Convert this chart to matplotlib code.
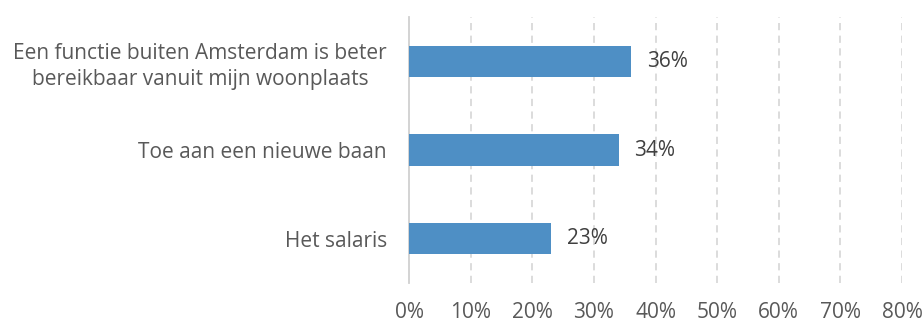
import matplotlib.pyplot as plt

categories = ["Een functie buiten Amsterdam is beter\nbereikbaar vanuit mijn woonplaats",
              "Toe aan een nieuwe baan",
              "Het salaris"]
values = [36, 34, 23]
ticks = [0, 10, 20, 30, 40, 50, 60, 70, 80]
tick_labels = [f"{t}%" for t in ticks]

plt.rcParams['font.family'] = ['Open Sans', 'DejaVu Sans']
text_color = "#595959"

fig = plt.figure(figsize=(9.24, 3.22), dpi=100)
ax = fig.add_axes([409 / 924, 1 - 283 / 322, 493 / 924, 266 / 322])

ypos = list(range(len(categories)))
ax.barh(ypos, values, height=0.35, color="#4E8FC5", zorder=3)
for y, v in zip(ypos, values):
    ax.text(v + 2.6, y, f"{v}%", va="center", ha="left", fontsize=15, color="#404040")

ax.set_xlim(0, 80)
ax.set_ylim(len(categories) - 0.5, -0.5)
ax.set_xticks(ticks)
ax.set_xticklabels(tick_labels)
ax.set_yticks(ypos)
ax.set_yticklabels(categories, ha="right", multialignment="center", linespacing=1.35)
ax.tick_params(axis="y", length=0, pad=16, labelsize=15, labelcolor=text_color)
ax.tick_params(axis="x", length=0, pad=14, labelsize=15, labelcolor=text_color)

ax.grid(axis="x", color="#D9D9D9", linestyle=(0, (4, 3)), linewidth=1.3, zorder=0)
for s in ["top", "right", "bottom"]:
    ax.spines[s].set_visible(False)
ax.spines["left"].set_color("#D0D0D0")
ax.spines["left"].set_linewidth(1.3)
# the 0% gridline sits under the axis line
ax.xaxis.get_gridlines()[0].set_visible(False)

fig.savefig("out.png", dpi=100)
